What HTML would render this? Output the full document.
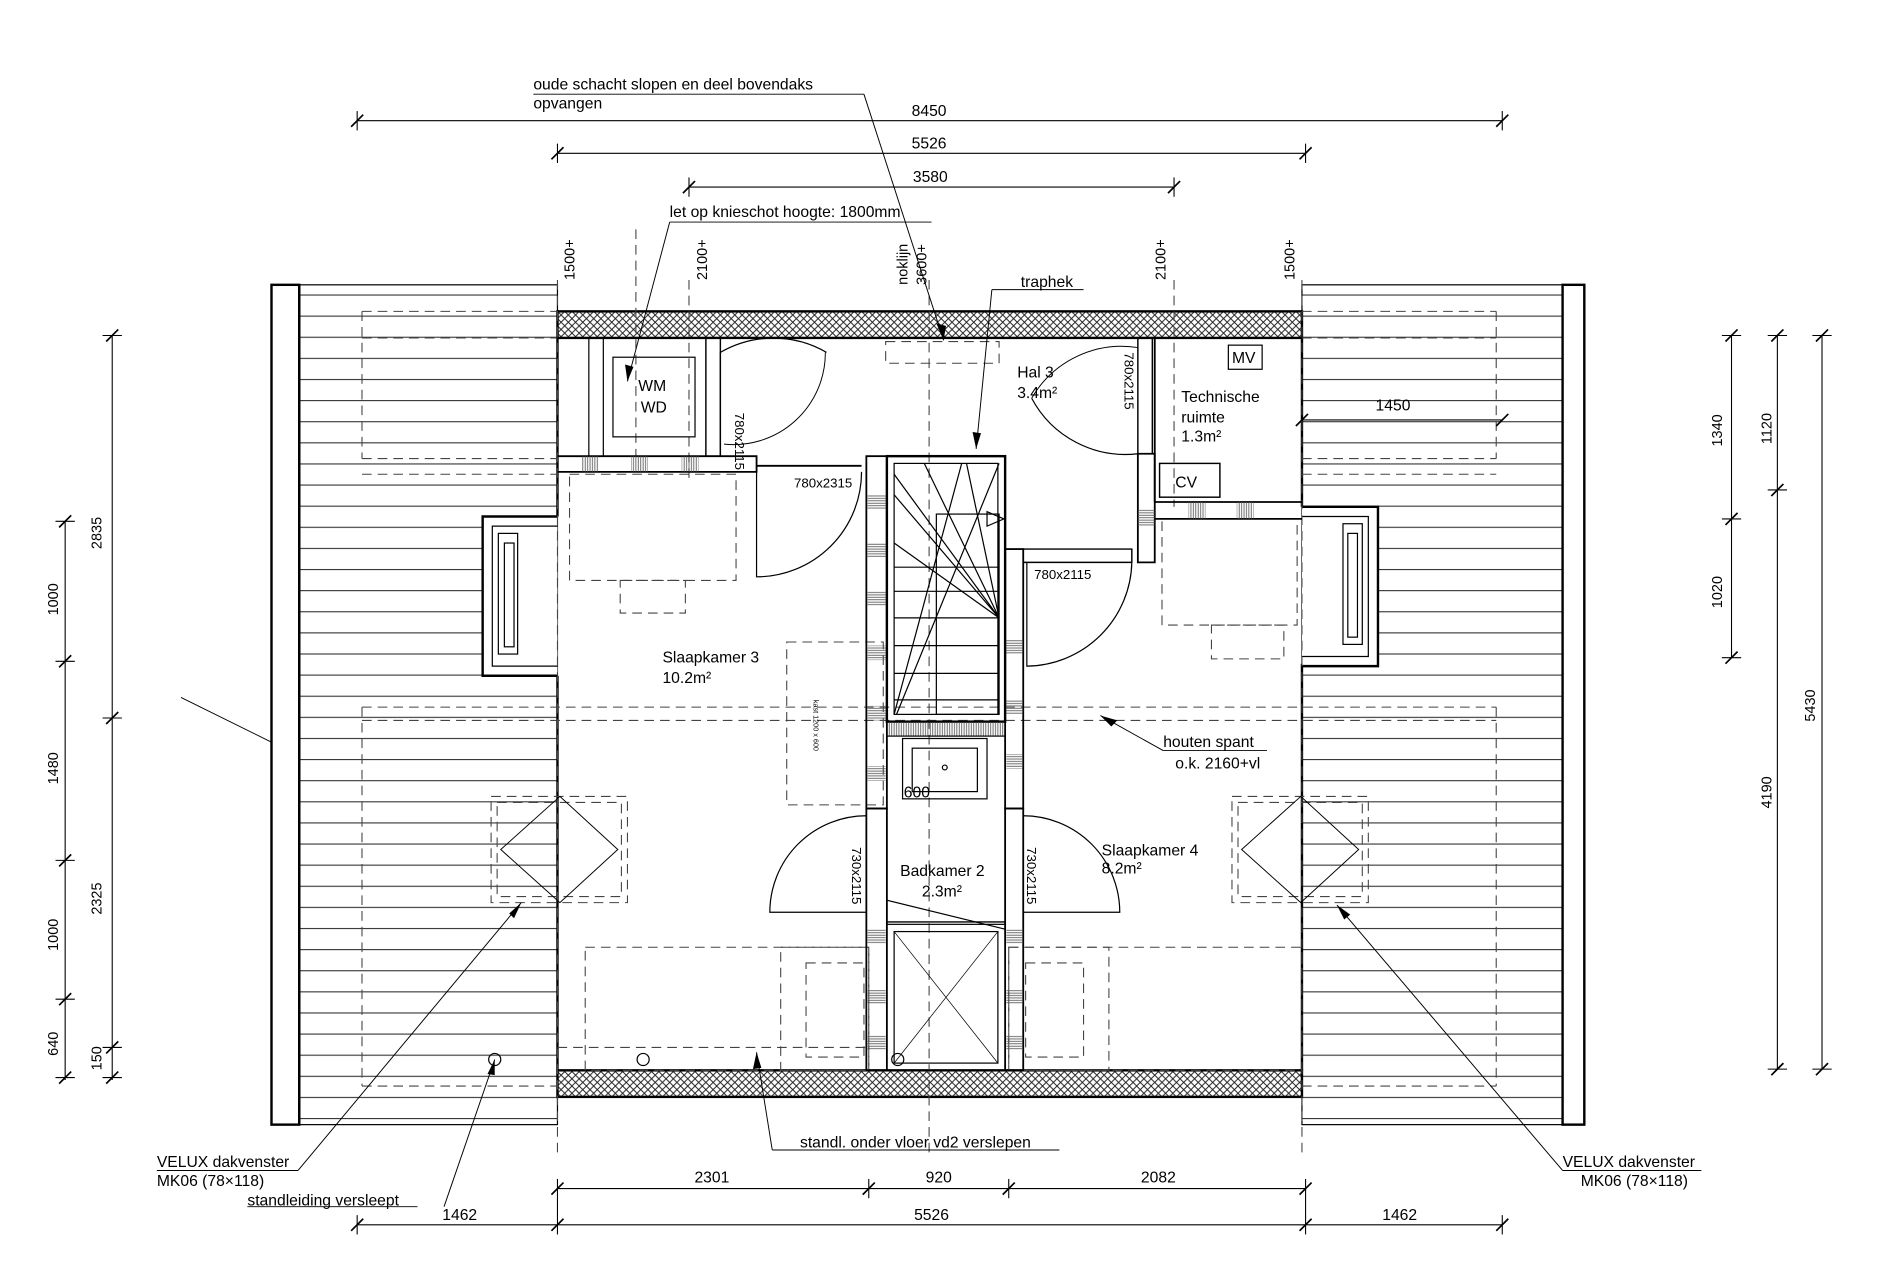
<!DOCTYPE html>
<html><head><meta charset="utf-8"><style>html,body{margin:0;padding:0;background:#fff}svg{display:block}text{font-family:"Liberation Sans",sans-serif;fill:#000}</style></head><body>
<svg width="1892" height="1276" viewBox="0 0 1568 1057.4" xmlns="http://www.w3.org/2000/svg">
<defs>
<pattern id="hl" x="0" y="244" width="20" height="17.5" patternUnits="userSpaceOnUse"><line x1="0" y1="0.5" x2="20" y2="0.5" stroke="#333" stroke-width="0.9"/></pattern>
<pattern id="xh" width="6" height="6" patternUnits="userSpaceOnUse"><path d="M0 0L6 6M6 0L0 6" stroke="#222" stroke-width="0.8"/></pattern>
<pattern id="vl" width="2" height="10" patternUnits="userSpaceOnUse"><line x1="1" y1="0" x2="1" y2="10" stroke="#555" stroke-width="0.7"/></pattern>
<pattern id="hl2" width="10" height="2" patternUnits="userSpaceOnUse"><line x1="0" y1="1" x2="10" y2="1" stroke="#555" stroke-width="0.7"/></pattern>
</defs>
<g fill="none" stroke="#000" stroke-width="1">
<rect x="248" y="236" width="214" height="696" fill="url(#hl)"/>
<rect x="225" y="236" width="23" height="696" stroke-width="2"/>
<line x1="248" y1="236" x2="248" y2="932" stroke-width="2"/>
<rect x="1079" y="236" width="216" height="696" fill="url(#hl)"/>
<rect x="1295" y="236" width="18" height="696" stroke-width="2"/>
<rect x="462" y="258" width="617" height="22" fill="url(#xh)" stroke-width="2"/>
<rect x="462" y="887" width="617" height="22" fill="url(#xh)" stroke-width="2"/>
<line x1="462" y1="280" x2="462" y2="428" stroke-width="2"/>
<line x1="462" y1="560" x2="462" y2="887" stroke-width="2"/>
<line x1="1079" y1="280" x2="1079" y2="420" stroke-width="2"/>
<line x1="1079" y1="550" x2="1079" y2="887" stroke-width="2"/>
<path d="M462 428H400V560H462" stroke-width="2" fill="#fff"/>
<path d="M462 436H408V552H462"/>
<rect x="413" y="442" width="16" height="100"/>
<rect x="418" y="450" width="8" height="86"/>
<path d="M1079 420H1142V552H1079" stroke-width="2" fill="#fff"/>
<path d="M1079 428H1134V544H1079"/>
<rect x="1113" y="434" width="16" height="100"/>
<rect x="1117" y="442" width="8" height="86"/>
<g stroke-dasharray="8,5" stroke="#444" stroke-width="0.9">
<line x1="462" y1="232" x2="462" y2="960"/><line x1="527" y1="190" x2="527" y2="378"/>
<line x1="571" y1="232" x2="571" y2="400"/><line x1="770" y1="232" x2="770" y2="960"/>
<line x1="973" y1="232" x2="973" y2="420"/><line x1="1079" y1="232" x2="1079" y2="960"/>
<line x1="300" y1="258" x2="462" y2="258"/><line x1="300" y1="280" x2="462" y2="280"/>
<line x1="300" y1="258" x2="300" y2="380"/><line x1="300" y1="380" x2="462" y2="380"/><line x1="300" y1="393" x2="462" y2="393"/>
<line x1="1079" y1="258" x2="1240" y2="258"/><line x1="1079" y1="280" x2="1240" y2="280"/>
<line x1="1240" y1="258" x2="1240" y2="380"/><line x1="1079" y1="380" x2="1240" y2="380"/><line x1="1079" y1="393" x2="1240" y2="393"/>
<line x1="300" y1="586" x2="1240" y2="586"/><line x1="300" y1="597" x2="1240" y2="597"/>
<line x1="300" y1="586" x2="300" y2="900"/><line x1="1240" y1="586" x2="1240" y2="900"/>
<line x1="300" y1="900" x2="462" y2="900"/><line x1="1079" y1="900" x2="1240" y2="900"/>
<line x1="462" y1="868" x2="720" y2="868"/>
<rect x="472" y="393" width="138" height="88"/><rect x="514" y="481" width="54" height="27"/>
<rect x="963" y="430" width="112" height="88"/><rect x="1004" y="518" width="60" height="28"/>
<rect x="652" y="532" width="80" height="135"/>
<rect x="734" y="283" width="94" height="18"/>
<rect x="407" y="660" width="113" height="88"/><rect x="412" y="665" width="103" height="78"/>
<rect x="1021" y="660" width="113" height="88"/><rect x="1026" y="665" width="103" height="78"/>
<rect x="485" y="785" width="235" height="102"/><rect x="668" y="798" width="48" height="78"/><rect x="647" y="785" width="73" height="102"/>
<rect x="836" y="785" width="243" height="102"/><rect x="850" y="798" width="48" height="78"/><rect x="836" y="785" width="83" height="102"/>
</g>
<path d="M464 660L415 704L464 748L512 704Z" stroke-width="0.8"/>
<path d="M1078 660L1029 704L1078 748L1126 704Z" stroke-width="0.8"/>
<line x1="488" y1="280" x2="488" y2="378"/><line x1="500" y1="280" x2="500" y2="378"/>
<rect x="508" y="296" width="68" height="66"/>
<path d="M462 378H627V391H462" stroke-width="1.5"/>
<rect x="482" y="378" width="14" height="13" fill="url(#vl)" stroke="none"/>
<rect x="523" y="378" width="14" height="13" fill="url(#vl)" stroke="none"/>
<rect x="565" y="378" width="14" height="13" fill="url(#vl)" stroke="none"/>
<rect x="585" y="280" width="12" height="98" stroke-width="1.2"/>
<path d="M597 292A88 88 0 0 1 685 292" /><path d="M597 292V378"/>
<path d="M600 368A76 76 0 0 0 684 292" stroke-width="0.8"/>
<path d="M627 391V478A87 87 0 0 0 714 391" stroke-width="1"/>
<line x1="627" y1="386" x2="714" y2="386" stroke-width="1.5"/>
<rect x="943" y="280" width="12" height="96" stroke-width="1.2"/>
<path d="M943 288A86 86 0 0 0 855 330" stroke-width="0.8"/>
<path d="M855 330A88 88 0 0 0 943 376"/>
<path d="M943 376V466H957V376Z" stroke-width="1.5"/>
<path d="M957 280V416" stroke-width="1.5"/>
<rect x="943" y="422" width="14" height="14" fill="url(#hl2)" stroke="none"/>
<path d="M957 416H1079M957 430H1079" stroke-width="1.5"/>
<rect x="985" y="416" width="14" height="14" fill="url(#vl)" stroke="none"/>
<rect x="1025" y="416" width="14" height="14" fill="url(#vl)" stroke="none"/>
<rect x="961" y="384" width="50" height="28" stroke-width="1.2"/>
<rect x="1018" y="286" width="28" height="20"/>
<path d="M848 455H938V466H848Z" stroke-width="1.2"/>
<path d="M851 466V552A88 88 0 0 0 938 466"/>
<rect x="718" y="378" width="17" height="292" stroke-width="1.5"/>
<rect x="833" y="455" width="15" height="215" stroke-width="1.5"/>
<g fill="url(#hl2)" stroke="none">
<rect x="719" y="410" width="15" height="12"/><rect x="719" y="450" width="15" height="12"/><rect x="719" y="490" width="15" height="12"/><rect x="719" y="535" width="15" height="12"/><rect x="719" y="585" width="15" height="12"/><rect x="719" y="635" width="15" height="12"/>
<rect x="834" y="580" width="13" height="12"/><rect x="834" y="625" width="13" height="12"/><rect x="834" y="530" width="13" height="12"/>
</g>
<rect x="735" y="378" width="98" height="220" stroke-width="2"/>
<rect x="741" y="384" width="86" height="208"/>
<path d="M741 393L828 512M741 410L828 512M741 450L828 512M766 384L828 512M801 384L828 512M828 384L743 592M741 592L797 384"/>
<path d="M741 512H828M741 535H828M741 558H828M741 580H828M741 490H828M741 470H828M741 512H828"/>
<rect x="776" y="426" width="52" height="166"/>
<path d="M818 424L832 430L818 436Z"/>
<rect x="735" y="598" width="98" height="12" fill="url(#vl)"/>
<rect x="748" y="612" width="70" height="50"/><rect x="756" y="620" width="54" height="36"/>
<circle cx="783" cy="636" r="2"/>
<line x1="735" y1="764" x2="833" y2="764" stroke-width="1.2"/>
<rect x="718" y="670" width="17" height="217" stroke-width="1.5"/>
<rect x="833" y="670" width="15" height="217" stroke-width="1.5"/>
<path d="M718 676A80 80 0 0 0 638 756H718"/>
<path d="M848 676A80 80 0 0 1 928 756H848"/>
<path d="M735 746L833 770" />
<rect x="735" y="766" width="98" height="121"/><rect x="741" y="772" width="86" height="109"/>
<path d="M741 772L827 881M827 772L741 881" stroke-width="0.6"/>
<g fill="url(#hl2)" stroke="none"><rect x="719" y="770" width="15" height="12"/><rect x="719" y="820" width="15" height="12"/><rect x="719" y="858" width="15" height="12"/><rect x="834" y="770" width="13" height="12"/><rect x="834" y="820" width="13" height="12"/><rect x="834" y="858" width="13" height="12"/></g>
<circle cx="410" cy="878" r="5"/><circle cx="533" cy="878" r="5"/><circle cx="744" cy="878" r="5"/>
<g stroke-width="0.9">
<line x1="296" y1="100" x2="1245" y2="100"/><line x1="462" y1="127" x2="1082" y2="127"/><line x1="571" y1="155" x2="973" y2="155"/>
<line x1="462" y1="985" x2="1082" y2="985"/><line x1="296" y1="1015" x2="1245" y2="1015"/>
<line x1="1079" y1="348" x2="1245" y2="348"/>
<line x1="54" y1="432" x2="54" y2="895"/><line x1="93" y1="278" x2="93" y2="895"/>
<line x1="1435" y1="278" x2="1435" y2="545"/><line x1="1473" y1="278" x2="1473" y2="886"/><line x1="1510" y1="278" x2="1510" y2="886"/>
<line x1="296" y1="92" x2="296" y2="108"/><line x1="1245" y1="92" x2="1245" y2="108"/><line x1="462" y1="119" x2="462" y2="135"/><line x1="1082" y1="119" x2="1082" y2="135"/>
<line x1="571" y1="147" x2="571" y2="163"/><line x1="973" y1="147" x2="973" y2="163"/>
<line x1="462" y1="977" x2="462" y2="1023"/><line x1="720" y1="977" x2="720" y2="993"/><line x1="836" y1="977" x2="836" y2="993"/><line x1="1082" y1="977" x2="1082" y2="1023"/>
<line x1="296" y1="1007" x2="296" y2="1023"/><line x1="1245" y1="1007" x2="1245" y2="1023"/>
</g>
<g stroke-width="1.4">
<path d="M291 105L301 95M1240 105L1250 95M457 132L467 122M1077 132L1087 122M566 160L576 150M968 160L978 150M457 990L467 980M715 990L725 980M831 990L841 980M1077 990L1087 980M291 1020L301 1010M457 1020L467 1010M1077 1020L1087 1010M1240 1020L1250 1010M1074 353L1084 343M1240 353L1250 343"/>
<path d="M49 437L59 427M49 553L59 543M49 718L59 708M49 833L59 823M49 898L59 888M88 283L98 273M88 600L98 590M88 873L98 863M88 898L98 888"/>
<path d="M1430 283L1440 273M1430 435L1440 425M1430 550L1440 540M1468 283L1478 273M1468 411L1478 401M1468 891L1478 881M1505 283L1515 273M1505 891L1515 881"/>
</g>
<path d="M46 432H62M46 548H62M46 713H62M46 828H62M46 893H62M85 278H101M85 595H101M85 868H101M85 893H101M1427 278H1443M1427 430H1443M1427 545H1443M1465 278H1481M1465 406H1481M1465 886H1481M1502 278H1518M1502 886H1518" stroke-width="0.9"/>
<g stroke-width="0.8">
<line x1="442" y1="78" x2="716" y2="78"/><line x1="716" y1="78" x2="782" y2="282"/>
<line x1="555" y1="184" x2="772" y2="184"/><line x1="555" y1="184" x2="520" y2="316"/>
<line x1="822" y1="240" x2="898" y2="240"/><line x1="822" y1="240" x2="809" y2="372"/>
<line x1="150" y1="578" x2="225" y2="615"/>
<line x1="964" y1="622" x2="1050" y2="622"/><line x1="964" y1="622" x2="912" y2="593"/>
<line x1="640" y1="953" x2="878" y2="953"/><line x1="640" y1="953" x2="627" y2="872"/>
<line x1="130" y1="970" x2="247" y2="970"/><line x1="247" y1="970" x2="432" y2="748"/>
<line x1="205" y1="1000" x2="346" y2="1000"/><line x1="368" y1="1000" x2="410" y2="878"/>
<line x1="1295" y1="970" x2="1410" y2="970"/><line x1="1295" y1="970" x2="1108" y2="750"/>
</g>
</g>
<g fill="#000">
<path d="M782 282L776 268L784 270Z"/><path d="M520 316L518 302L525 304Z"/><path d="M809 372L806 358L813 359Z"/>
<path d="M912 593L926 597L921 602Z"/><path d="M627 872L624 886L631 885Z"/><path d="M432 748L422 757L426 761Z"/>
<path d="M1108 750L1114 762L1119 758Z"/><path d="M410 878L404 890L410 891Z"/>
</g>
<g font-size="13">
<text x="442" y="74">oude schacht slopen en deel bovendaks</text><text x="442" y="90">opvangen</text>
<text x="770" y="96" text-anchor="middle">8450</text><text x="770" y="123" text-anchor="middle">5526</text><text x="771" y="151" text-anchor="middle">3580</text>
<text x="555" y="180">let op knieschot hoogte: 1800mm</text>
<text x="846" y="238">traphek</text>
<text x="529" y="324">WM</text><text x="531" y="342">WD</text>
<text x="843" y="313">Hal 3</text><text x="843" y="330">3.4m²</text>
<text x="1021" y="301">MV</text>
<text x="979" y="333">Technische</text><text x="979" y="350">ruimte</text><text x="979" y="366">1.3m²</text>
<text x="1140" y="340">1450</text>
<text x="974" y="404">CV</text>
<text x="658" y="404" font-size="11">780x2315</text>
<text x="857" y="480" font-size="11">780x2115</text>
<text x="549" y="549">Slaapkamer 3</text><text x="549" y="566">10.2m²</text>
<text x="964" y="619">houten spant</text><text x="974" y="637">o.k.  2160+vl</text>
<text x="749" y="661">600</text>
<text x="913" y="709">Slaapkamer 4</text><text x="913" y="724">8.2m²</text>
<text x="746" y="726">Badkamer 2</text><text x="764" y="743">2.3m²</text>
<text x="663" y="951">standl. onder vloer vd2 verslepen</text>
<text x="130" y="967">VELUX dakvenster</text><text x="130" y="983">MK06 (78×118)</text>
<text x="205" y="999">standleiding versleept</text>
<text x="1295" y="967">VELUX dakvenster</text><text x="1310" y="983">MK06 (78×118)</text>
<text x="590" y="980" text-anchor="middle">2301</text><text x="778" y="980" text-anchor="middle">920</text><text x="960" y="980" text-anchor="middle">2082</text>
<text x="381" y="1011" text-anchor="middle">1462</text><text x="772" y="1011" text-anchor="middle">5526</text><text x="1160" y="1011" text-anchor="middle">1462</text>
</g>
<g font-size="12">
<text transform="translate(476,232) rotate(-90)">1500+</text>
<text transform="translate(586,232) rotate(-90)">2100+</text>
<text transform="translate(752,236) rotate(-90)">noklijn</text>
<text transform="translate(768,236) rotate(-90)">3600+</text>
<text transform="translate(966,232) rotate(-90)">2100+</text>
<text transform="translate(1073,232) rotate(-90)">1500+</text>
<text transform="translate(609,342) rotate(90)" font-size="11">780x2115</text>
<text transform="translate(932,292) rotate(90)" font-size="11">780x2115</text>
<text transform="translate(706,702) rotate(90)" font-size="11">730x2115</text>
<text transform="translate(851,702) rotate(90)" font-size="11">730x2115</text>
<text transform="translate(674,580) rotate(90)" font-size="6">kast 1200 x 600</text>
<text transform="translate(84,455) rotate(-90)">2835</text>
<text transform="translate(48,510) rotate(-90)">1000</text>
<text transform="translate(48,650) rotate(-90)">1480</text>
<text transform="translate(84,758) rotate(-90)">2325</text>
<text transform="translate(48,788) rotate(-90)">1000</text>
<text transform="translate(48,875) rotate(-90)">640</text>
<text transform="translate(84,887) rotate(-90)">150</text>
<text transform="translate(1427,370) rotate(-90)">1340</text>
<text transform="translate(1427,504) rotate(-90)">1020</text>
<text transform="translate(1468,368) rotate(-90)">1120</text>
<text transform="translate(1468,670) rotate(-90)">4190</text>
<text transform="translate(1504,598) rotate(-90)">5430</text>
</g>
</svg>
</body></html>
